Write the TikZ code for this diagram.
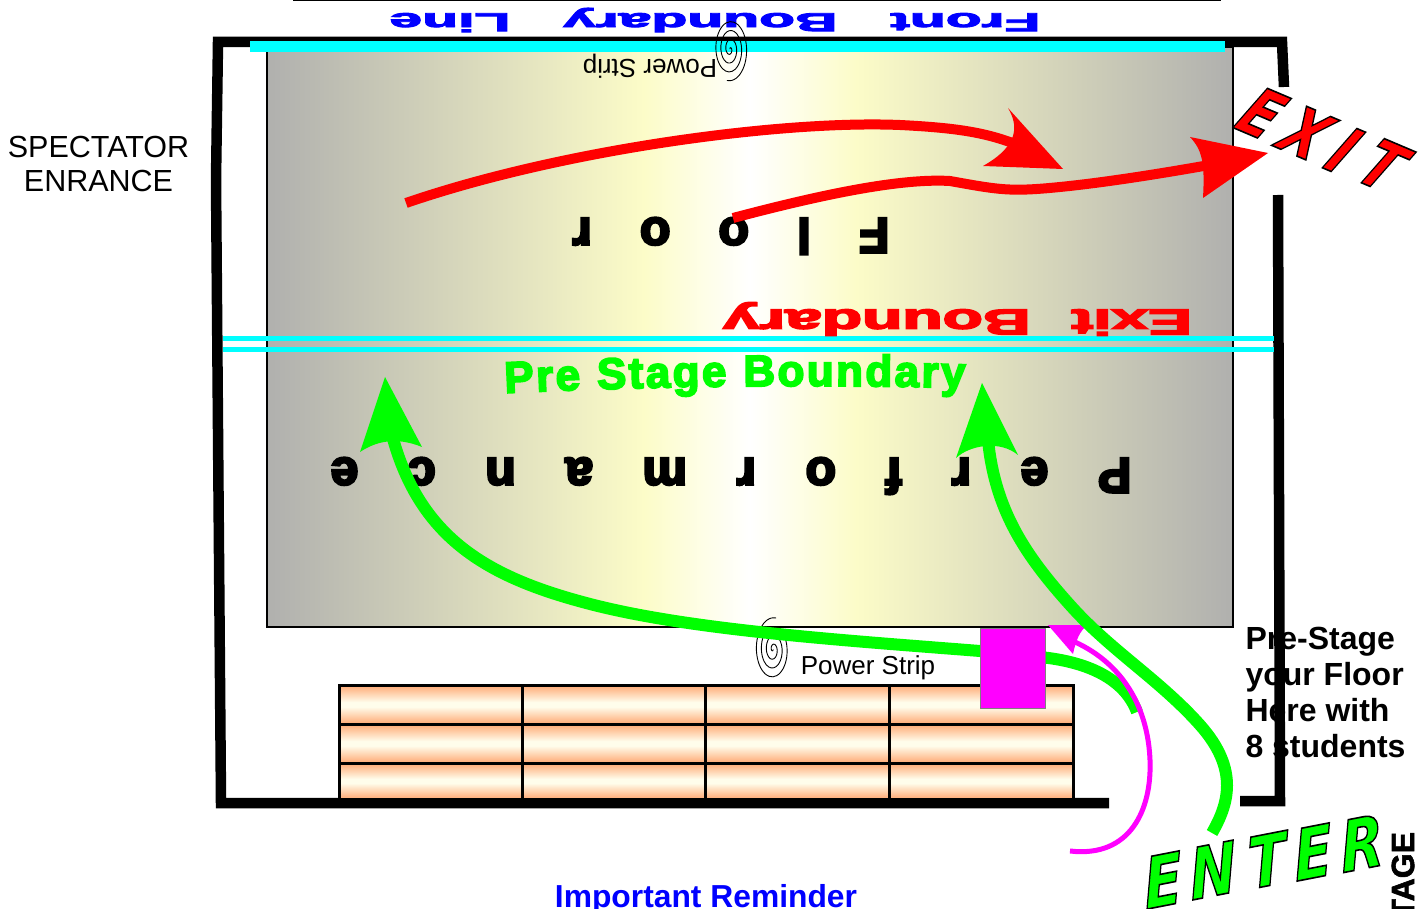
\documentclass[tikz,border=0pt]{standalone}
\usepackage{fontspec}
\setmainfont{Liberation Sans}
\newfontfamily\djv{DejaVu Sans}
\usetikzlibrary{decorations.text}
\definecolor{floorgray}{HTML}{B0B0AE}
\definecolor{flooryel}{HTML}{FCFCC8}
\definecolor{brickor}{HTML}{FFA873}
\definecolor{brickcr}{HTML}{FFFDEB}
\definecolor{gr}{HTML}{00FF00}
\definecolor{mg}{HTML}{FF00FF}
\definecolor{cy}{HTML}{00FFFF}
\definecolor{bl}{HTML}{0000FF}
\definecolor{rd}{HTML}{FF0000}
\pgfdeclarehorizontalshading{floorgrad}{100bp}{color(0bp)=(floorgray);color(25bp)=(floorgray);color(44.5bp)=(flooryel);color(50bp)=(white);color(55.5bp)=(flooryel);color(75bp)=(floorgray);color(100bp)=(floorgray)}
\pgfdeclareverticalshading{brickgrad}{100bp}{color(0bp)=(brickor);color(25bp)=(brickor);color(47bp)=(brickcr);color(53bp)=(brickcr);color(75bp)=(brickor);color(100bp)=(brickor)}
\newcommand\outl[2]{{\color{#1}\special{pdf:code 0 0 0 RG 2 Tr 1.6 w}#2\special{pdf:code 0 Tr}}}
\newcommand\heavy[2]{\special{pdf:code 2 Tr #1 w}#2\special{pdf:code 0 Tr}}
\tikzset{
  lbl/.style={inner sep=0pt,outer sep=0pt,font=\fontsize{#1}{#1}\selectfont},
  wall/.style={line width=10.5pt,black,line join=miter},
  greenarrow/.style={gr,line width=12pt},
  redarrow/.style={rd,line width=10pt},
  spiral/.style={black,line width=0.9pt},
  big/.style={inner sep=0pt,outer sep=0pt,font=\fontsize{#1}{#1}\djv\bfseries\itshape},
  exitl/.style={big=68,rotate=-23,xscale=.76,xslant=.24},
  enterl/.style={big=70,rotate=11,xscale=.8,xslant=.16},
}
\newcommand\spiralat[3]{\draw[spiral,rotate around={#3:(#1,#2)}] plot[smooth,samples=90,domain=0:1300,variable=\t] ({#1+(\t/1300)*18*cos(\t+60)},{#2+(\t/1300)*32*sin(\t+60)});}
\begin{document}
\begin{tikzpicture}[x=1pt,y=-1pt]
\useasboundingbox (0,0) rectangle (1428,909);
% top line
\coordinate (tl) at (293,0.5); \coordinate (tr) at (1221,0.5);
\draw[black,line width=2pt] (tl) -- (tr);
% pre-stage text beneath the wall
\node[lbl=32,font=\fontsize{32}{36}\selectfont\bfseries,anchor=north west,align=left] (prestage) at (1245.5,627) {Pre-Stage\\your Floor\\Here with\\8 students};
% walls
\draw[wall] (1284,87) -- (1282,42) -- (218,42) -- (216,180) -- (221,803) -- (1109,803);
\draw[wall] (1240,801) -- (1280,801) -- (1278,195);
% floor
\path[draw=black,line width=2pt,shading=floorgrad] (267,47) rectangle (1233,627);
% bricks
\foreach \xa/\xb in {339/522,522/705,705/889,889/1073}{
  \foreach \ya/\yb in {685/724,724/763,763/799}{
    \path[draw=black,line width=3pt,shading=brickgrad] (\xa,\ya) rectangle (\xb,\yb);
  }
}
% floor lines
\coordinate (fl) at (250,46.5); \coordinate (fr) at (1225,46.5);
\draw[cy,line width=11pt] (fl) -- (fr);
\coordinate (pl) at (223,338.5); \coordinate (pr) at (1274,338.5);
\coordinate (ql) at (223,349.5); \coordinate (qr) at (1274,349.5);
\draw[cy,line width=5pt] (pl) -- (pr);
\draw[cy,line width=5pt] (ql) -- (qr);
% texts
\node[lbl=30.5,align=center,font=\fontsize{30.5}{34}\selectfont] (spect) at (98.5,164) {SPECTATOR\\ENRANCE};
\node[lbl=32,font=\fontsize{31.8}{36}\selectfont\bfseries,text=bl,anchor=center] (remind) at (706,899) {Important Reminder};
\node[lbl=32,font=\fontsize{32}{36}\selectfont\bfseries,rotate=90,anchor=east] (stage) at (1403,832) {\heavy{0.6}{STAGE}};
\node[lbl=26,rotate=180] (ps1) at (650,66) {Power Strip};
\node[lbl=26] (ps2) at (868,668) {Power Strip};
\node[lbl=26,font=\fontsize{26}{26}\selectfont\bfseries,text=bl,rotate=180,xscale=2.26] (front) at (715,20) {\heavy{0.8}{Front\hspace{0.9em}Boundary\hspace{0.9em}Line}};
\node[lbl=36,font=\fontsize{36}{36}\selectfont\bfseries,text=rd,rotate=180,xscale=1.83] (exitb) at (957.5,319) {\heavy{1.4}{Exit\hspace{0.62em}Boundary}};
\node[lbl=50,font=\fontsize{50}{50}\selectfont\bfseries\addfontfeature{LetterSpace=96},rotate=180] (floor) at (731,236) {\heavy{2.5}{Floor}};
\node[lbl=50,font=\fontsize{50}{50}\selectfont\bfseries\addfontfeature{LetterSpace=99},rotate=180] (perf) at (731,476) {\heavy{2.5}{Performance}};
% spirals
\spiralat{773}{649.5}{0}
\spiralat{730}{49}{180}
% green arrow A
\coordinate (gas) at (1137,712);
\coordinate (gat) at (392,435);
\draw[greenarrow] (gas) .. controls (1125,680) and (1090,662) .. (1040,657) -- (980,651) .. controls (840,640) and (690,630) .. (590,604) .. controls (490,578) and (420,540) .. (gat);
\fill[gr] (385,377) -- (360,452) .. controls (375,442) and (395,436) .. (422,447) -- cycle;
% magenta arrow
\coordinate (ms) at (1070,851);
\coordinate (mt) at (1075,642);
\draw[mg,line width=5pt] (ms) .. controls (1130,858) and (1152,810) .. (1150,760) .. controls (1148,710) and (1125,665) .. (mt);
\fill[mg] (1048,625) -- (1088,625) .. controls (1080,630) and (1076,640) .. (1073,654) -- cycle;
% green arrow B
\coordinate (gbs) at (1212,833);
\coordinate (gbt) at (988,440);
\draw[greenarrow] (gbs) .. controls (1228,805) and (1240,770) .. (1200,725) .. controls (1160,680) and (1110,650) .. (1070,605) .. controls (1025,555) and (995,510) .. (gbt);
\fill[gr] (982,383) -- (956,458) .. controls (970,445) and (1000,440) .. (1018,455) -- cycle;
% magenta box
\node[draw=black!50,line width=0.6pt,fill=mg,minimum width=65pt,minimum height=80pt,inner sep=0pt] (box) at (1012.5,668) {};
% red arrows
\coordinate (r1s) at (406,203);
\coordinate (r1t) at (1025,148);
\draw[redarrow] (r1s) .. controls (560,150) and (780,120) .. (900,125) .. controls (960,128) and (990,133) .. (r1t);
\fill[rd] (1063,169) -- (1008,108) .. controls (1018,125) and (1020,145) .. (983,166) -- cycle;
\coordinate (r2s) at (733,218);
\coordinate (r2t) at (1215,164);
\draw[redarrow] (r2s) .. controls (820,195) and (900,178) .. (950,181) .. controls (1000,190) and (1010,192) .. (1060,187) .. controls (1110,182) and (1170,172) .. (r2t);
\fill[rd] (1268,153) -- (1190,137) .. controls (1202,150) and (1205,162) .. (1203,198) -- cycle;
% EXIT
\node[exitl] (x1) at (1262,113) {\outl{rd}{E}};
\node[exitl] (x2) at (1306,133) {\outl{rd}{X}};
\node[exitl] (x3) at (1344,150) {\outl{rd}{I}};
\node[exitl] (x4) at (1383,165) {\outl{rd}{T}};
% ENTER
\node[enterl] (e1) at (1163,880) {\outl{gr}{E}};
\node[enterl] (e2) at (1213,870) {\outl{gr}{N}};
\node[enterl] (e3) at (1267,860) {\outl{gr}{T}};
\node[enterl] (e4) at (1313,852) {\outl{gr}{E}};
\node[enterl] (e5) at (1362,843) {\outl{gr}{R}};
% arched green label
\begin{scope}
\path[decorate,decoration={text along path,text align={fit to path},text={|\fontsize{44}{44}\selectfont\bfseries\color{gr}\special{pdf:code 2 Tr 1.8 w}|Pre Stage Boundary}}] (505,393) .. controls (650,386) and (820,384) .. (965,388);
\end{scope}
\end{tikzpicture}
\end{document}
